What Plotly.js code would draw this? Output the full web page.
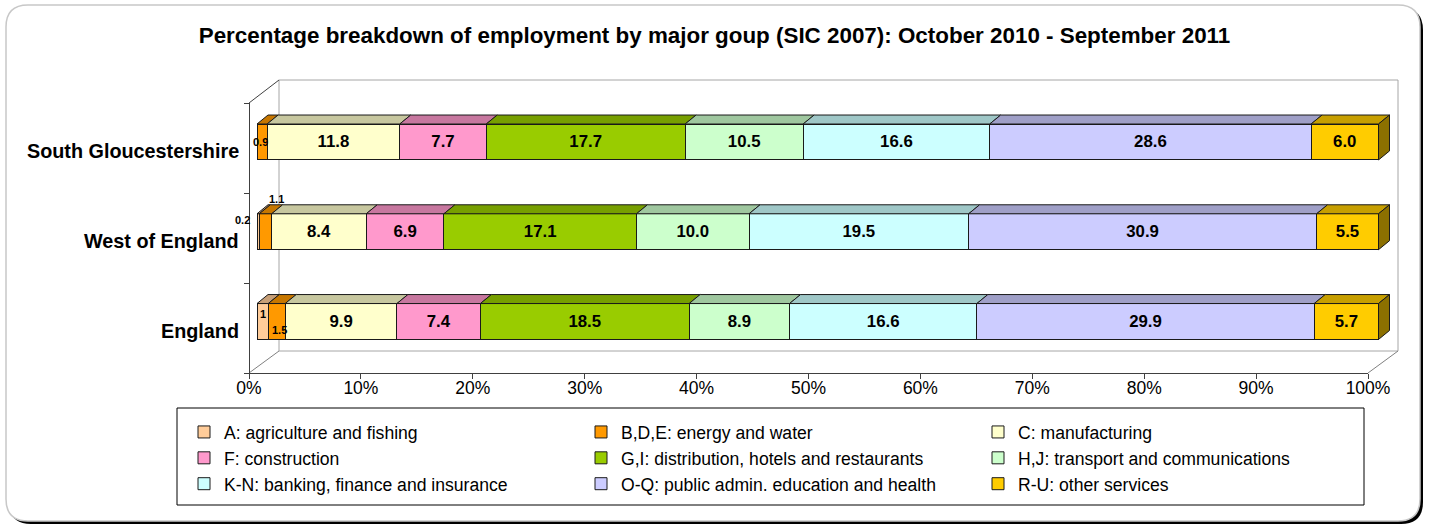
<!DOCTYPE html>
<html>
<head>
<meta charset="utf-8">
<script src="https://cdn.plot.ly/plotly-3.0.1.min.js"></script>
<style>
  html, body { margin: 0; padding: 0; background: #ffffff; }
  #chart { width: 1429px; height: 528px; }
</style>
</head>
<body>
<div id="chart"></div>
<script>
// categories bottom to top, as plotly draws them
const areas = ["England", "West of England", "South Gloucestershire"];

const sectors = [
  "A: agriculture and fishing",
  "B,D,E: energy and water",
  "C: manufacturing",
  "F: construction",
  "G,I: distribution, hotels and restaurants",
  "H,J: transport and communications",
  "K-N: banking, finance and insurance",
  "O-Q: public admin. education and health",
  "R-U: other services"
];

const sectorColors = ["#FFCC99", "#FF9900", "#FFFFCC", "#FF99CC", "#99CC00",
                      "#CCFFCC", "#CCFFFF", "#CCCCFF", "#FFCC00"];

// percentage of employment, same order as sectors
const englandValues = [1, 1.5, 9.9, 7.4, 18.5, 8.9, 16.6, 29.9, 5.7];
const westOfEnglandValues = [0.2, 1.1, 8.4, 6.9, 17.1, 10.0, 19.5, 30.9, 5.5];
const southGlosValues = [0, 0.9, 11.8, 7.7, 17.7, 10.5, 16.6, 28.6, 6.0];

const xTicks = [0, 10, 20, 30, 40, 50, 60, 70, 80, 90, 100];
const xTickLabels = ["0%", "10%", "20%", "30%", "40%", "50%", "60%", "70%", "80%", "90%", "100%"];

const W = 1429, H = 528;
const px = (v) => v / W;
const py = (v) => 1 - v / H;

const areaValues = [englandValues, westOfEnglandValues, southGlosValues];
// 100% stacked, like the excel chart
const areaPct = areaValues.map((vals) => {
  const total = vals.reduce((a, b) => a + b, 0);
  return vals.map((v) => (v / total) * 100);
});

// nudges (px) for labels too small to sit inside their segment: [area, sector, dx, dy]
const smallLabelNudge = [
  [0, 0, 0, 8], [0, 1, 3, -8],
  [1, 0, -16, 12], [1, 1, 11, 33],
  [2, 1, -2, 0]
];

const shade = (hex, f) => {
  const n = parseInt(hex.slice(1), 16);
  const r = Math.round(((n >> 16) & 255) * f);
  const g = Math.round(((n >> 8) & 255) * f);
  const b = Math.round((n & 255) * f);
  return "rgb(" + r + "," + g + "," + b + ")";
};

const traces = sectors.map((name, s) => ({
  type: "bar",
  orientation: "h",
  name: name,
  y: areas.map((a, i) => i),
  x: areaPct.map((p) => p[s]),
  text: areaValues.map((vals) => (vals[s] >= 2 ? vals[s].toFixed(1) : "")),
  texttemplate: "<b>%{text}</b>",
  textposition: "inside",
  insidetextanchor: "middle",
  textfont: { family: "Liberation Sans, Arial, sans-serif", size: 16.8, color: "#000000" },
  marker: { color: sectorColors[s], line: { color: "#1a1a1a", width: 1 } },
  hoverinfo: "name+x"
}));

// dummy trace so the front axes (x2/y2) get drawn
traces.push({
  type: "scatter", x: [0, 100], y: [0, 3], xaxis: "x2", yaxis: "y2",
  mode: "none", showlegend: false, hoverinfo: "skip"
});

// bar geometry for the fake 3d faces
const barLeft = 257, barScale = 11.215; // px per percent
const barHalf = 0.2;
const depthX = 11 / barScale;
const depthY = 9 / 89.75;

const shapes = [];

// chart frame with dark shadow
const roundRect = (x0, y0, x1, y1, r) => {
  const X0 = px(x0), X1 = px(x1), Y0 = py(y0), Y1 = py(y1);
  const rx = r / W, ry = r / H;
  return "M" + (X0 + rx) + "," + Y0 + " L" + (X1 - rx) + "," + Y0 +
    " Q" + X1 + "," + Y0 + " " + X1 + "," + (Y0 - ry) +
    " L" + X1 + "," + (Y1 + ry) + " Q" + X1 + "," + Y1 + " " + (X1 - rx) + "," + Y1 +
    " L" + (X0 + rx) + "," + Y1 + " Q" + X0 + "," + Y1 + " " + X0 + "," + (Y1 + ry) +
    " L" + X0 + "," + (Y0 - ry) + " Q" + X0 + "," + Y0 + " " + (X0 + rx) + "," + Y0 + " Z";
};
shapes.push({ type: "path", xref: "paper", yref: "paper", layer: "below",
  path: roundRect(9, 8, 1423, 524, 22), fillcolor: "#000000", line: { width: 0 } });
shapes.push({ type: "path", xref: "paper", yref: "paper", layer: "below",
  path: roundRect(6, 5, 1420, 521, 22), fillcolor: "#ffffff", line: { color: "#c8c8c8", width: 1.5 } });

// back wall and floor edges
const wallLine = (x0, y0, x1, y1, color) => ({
  type: "line", xref: "paper", yref: "paper", layer: "below",
  x0: px(x0), y0: py(y0), x1: px(x1), y1: py(y1),
  line: { color: color || "#a6a6a6", width: 1 }
});
shapes.push(wallLine(279, 80, 1398, 80));
shapes.push(wallLine(279, 80, 279, 351));
shapes.push(wallLine(1398, 80, 1398, 351));
shapes.push(wallLine(279, 351, 1398, 351));
shapes.push(wallLine(249, 373, 279, 351, "#808080"));
shapes.push(wallLine(1368, 373, 1398, 351, "#808080"));
shapes.push(wallLine(249, 103, 279, 80, "#404040"));

// legend box
shapes.push({ type: "rect", xref: "paper", yref: "paper", layer: "below",
  x0: px(177), y0: py(408), x1: px(1364), y1: py(505),
  fillcolor: "#ffffff", line: { color: "#000000", width: 1 } });

// top faces of every segment, side face of the last one
areaPct.forEach((pcts, i) => {
  let start = 0;
  const yt = i + barHalf, yb = i - barHalf;
  pcts.forEach((p, s) => {
    if (p <= 0) return;
    const x0 = start, x1 = start + p;
    shapes.push({
      type: "path", xref: "x", yref: "y", layer: "above",
      path: "M" + x0 + "," + yt + " L" + x1 + "," + yt + " L" + (x1 + depthX) + "," + (yt + depthY) +
        " L" + (x0 + depthX) + "," + (yt + depthY) + " Z",
      fillcolor: shade(sectorColors[s], 0.78), line: { color: "#1a1a1a", width: 1 }
    });
    if (s === pcts.length - 1) {
      shapes.push({
        type: "path", xref: "x", yref: "y", layer: "above",
        path: "M" + x1 + "," + yb + " L" + x1 + "," + yt + " L" + (x1 + depthX) + "," + (yt + depthY) +
          " L" + (x1 + depthX) + "," + (yb + depthY) + " Z",
        fillcolor: shade(sectorColors[s], 0.55), line: { color: "#1a1a1a", width: 1 }
      });
    }
    start = x1;
  });
});

const annotations = areas.map((a, i) => ({
  xref: "paper", yref: "y", x: px(241), y: i, yshift: -9,
  xanchor: "right", yanchor: "middle", showarrow: false,
  text: "<b>" + a + "</b>",
  font: { family: "Liberation Sans, Arial, sans-serif", size: 19.8, color: "#000000" }
}));

smallLabelNudge.forEach(([i, s, dx, dy]) => {
  const pcts = areaPct[i];
  const before = pcts.slice(0, s).reduce((a, b) => a + b, 0);
  annotations.push({
    xref: "x", yref: "y", x: before + pcts[s] / 2, y: i,
    xshift: dx, yshift: dy, showarrow: false,
    text: "<b>" + String(areaValues[i][s]) + "</b>",
    font: { family: "Liberation Sans, Arial, sans-serif", size: 11, color: "#000000" }
  });
});

const layout = {
  width: W,
  height: H,
  margin: { l: 0, r: 0, t: 0, b: 0 },
  paper_bgcolor: "#ffffff",
  plot_bgcolor: "rgba(0,0,0,0)",
  font: { family: "Liberation Sans, Arial, sans-serif", color: "#000000" },
  title: {
    text: "<b>Percentage breakdown of employment by major goup (SIC 2007): October 2010 - September 2011</b>",
    font: { size: 22.4, color: "#000000" },
    x: 0.5, xanchor: "center",
    yref: "container", y: py(35), yanchor: "middle"
  },
  barmode: "stack",
  bargap: 0.6,
  showlegend: true,
  legend: {
    orientation: "h",
    x: px(184), y: py(458), xanchor: "left", yanchor: "middle",
    entrywidth: 352,
    borderwidth: 0, bgcolor: "rgba(0,0,0,0)",
    font: { size: 17.6, color: "#000000" },
    traceorder: "normal"
  },
  xaxis: {
    domain: [px(barLeft), px(barLeft + 102 * barScale)],
    range: [0, 102], visible: false, fixedrange: true
  },
  yaxis: {
    domain: [py(366.4), py(97.1)],
    range: [-0.5, 2.5], visible: false, fixedrange: true
  },
  xaxis2: {
    domain: [px(249), px(1368)],
    anchor: "free", position: py(373),
    range: [0, 100], tickmode: "array", tickvals: xTicks, ticktext: xTickLabels,
    ticks: "outside", ticklen: 5, tickcolor: "#404040",
    ticklabelstandoff: -6,
    showline: true, linecolor: "#404040", linewidth: 1,
    showgrid: false, zeroline: false,
    tickfont: { size: 17.5, color: "#000000" }
  },
  yaxis2: {
    domain: [py(373), py(103)],
    anchor: "free", position: px(249),
    range: [0, 3], tickvals: [0, 1, 2, 3], showticklabels: false,
    ticks: "outside", ticklen: 5, tickcolor: "#404040",
    showline: true, linecolor: "#404040", linewidth: 1,
    showgrid: false, zeroline: false
  },
  shapes: shapes,
  annotations: annotations
};

Plotly.newPlot("chart", traces, layout, { displayModeBar: false, staticPlot: true });
</script>
</body>
</html>
